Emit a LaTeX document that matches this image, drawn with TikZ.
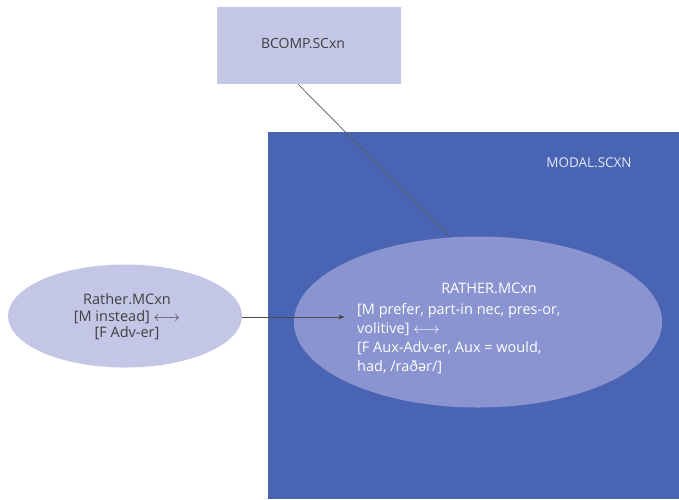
\documentclass[tikz,border=0pt]{standalone}
\usepackage{fontspec}
\setmainfont{Open Sans}
\newfontfamily\ipafont{Noto Sans}
\usetikzlibrary{shapes.geometric,arrows.meta}
\definecolor{lav}{RGB}{196,198,230}
\definecolor{modalblue}{RGB}{74,100,180}
\definecolor{midlav}{RGB}{138,148,208}
\tikzset{
  txt/.style={font=\fontsize{14.5}{19}\selectfont, inner sep=0pt},
  conn/.style={draw=black!70, line width=0.7pt}
}
\begin{document}
\begin{tikzpicture}[x=1pt,y=-1pt]
\useasboundingbox (0,0) rectangle (679,499);
\fill[white] (0,0) rectangle (679,499);
% modal box
\node[fill=modalblue, minimum width=411pt, minimum height=367pt, anchor=north west, inner sep=0pt] (modal) at (268,132) {};
\node[txt, font=\fontsize{13.5}{16}\selectfont, text=white!85!modalblue] (modallbl) at (589,163) {MODAL.SCXN};
% bcomp
\node[fill=lav, minimum width=184pt, minimum height=77pt, anchor=north west, inner sep=0pt] (bcomp) at (217,7) {};
\node[txt, font=\fontsize{14}{16}\selectfont, text=black!75] (bcomplbl) at (303,44) {BCOMP.SCxn};
% big ellipse
\node[ellipse, fill=midlav, minimum width=368pt, minimum height=171pt, inner sep=0pt] (rather) at (478,322) {};
\node[txt, text=white, anchor=center] (ratherT) at (489,288) {RATHER.MCxn};
\node[txt, text=white, anchor=north west, align=left] (ratherB) at (357,303)
  {[M prefer, part-in nec, pres-or,\\volitive] $\longleftrightarrow$\\[0pt][F Aux-Adv-er, Aux = would,\\had, /rað{\ipafont ə}r/]};
% left ellipse
\node[ellipse, fill=lav, minimum width=234pt, minimum height=103pt, inner sep=0pt] (left) at (125,316) {};
\node[txt, text=black!75, align=center, font=\fontsize{14.5}{16.5}\selectfont] (leftT) at (127,317)
  {Rather.MCxn\\{}[M instead] $\longleftrightarrow$\\{}[F Adv-er]};
% connectors
\coordinate (tip) at (345,317);
\draw[conn, -{Latex[length=6pt,width=5pt]}] (left.east |- tip) -- (tip);
\draw[conn, draw=black!65] (bcomp.south) ++(-11,0) coordinate (bs) -- (rather.north -| 449,0);
\end{tikzpicture}
\end{document}
